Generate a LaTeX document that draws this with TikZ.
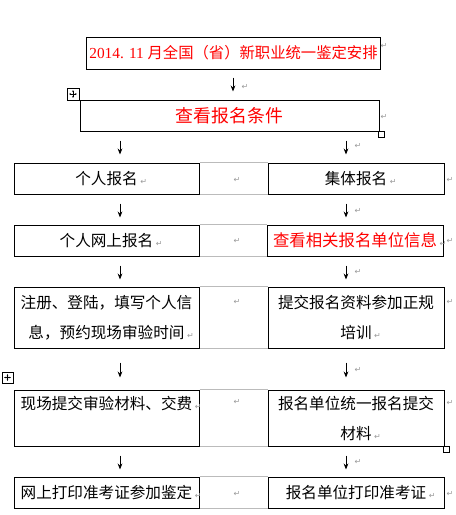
\documentclass[tikz,border=0pt]{standalone}
\usepackage{fontspec}
\newfontfamily\cjk{Noto Sans CJK SC}
\newfontfamily\symb{DejaVu Sans}
\newfontfamily\latinfont{Liberation Serif}
\usetikzlibrary{arrows.meta}

\definecolor{markColour}{HTML}{999999}
\newcommand\parmk{\rlap{\,{\symb\color{markColour}\fontsize{6}{6}\selectfont ↵}}}

\begin{document}
\begin{tikzpicture}[x=0.75pt, y=-0.75pt]
    \definecolor{borderColour}{HTML}{000000}
    \definecolor{gridColour}{HTML}{BBBBBB}
    \definecolor{noteColour}{HTML}{FF0000}

    \tikzset{
        box/.style={draw=borderColour, line width=0.75pt, inner sep=0pt, align=center,
            font=\cjk\fontsize{11.7}{22.5}\selectfont},
        leftbox/.style={box, minimum width=138.75pt},
        rightbox/.style={box, minimum width=132pt},
        flow/.style={line width=0.6pt, -{Stealth[length=4.5pt, width=3.5pt]}},
        tableline/.style={draw=gridColour, line width=0.75pt},
        retmark/.style={text=markColour, font=\symb\fontsize{6}{6}\selectfont, inner sep=0pt},
        handle/.style={draw=borderColour, line width=0.5pt, fill=white},
        cross/.style={line width=0.4pt, {Stealth[length=1.5pt]}-{Stealth[length=1.5pt]}}
    }

    \useasboundingbox (0,0) rectangle (456,515);

    % Columns of the arrows
    \coordinate (colM) at (233,0);
    \coordinate (colL) at (120,0);
    \coordinate (colR) at (346,0);

    % Top boxes
    \node[box, minimum width=220.5pt, minimum height=24pt, text=noteColour,
        font=\cjk\fontsize{11.5}{14}\selectfont] (plan) at (233.5,53)
        {{\latinfont 2014. 11 }月全国（省）新职业统一鉴定安排};
    \node[box, minimum width=224.25pt, minimum height=23.25pt, text=noteColour,
        font=\cjk\fontsize{13.4}{16}\selectfont] (cond) at (229.5,115.5) {查看报名条件};

    % Personal (left) and group (right) registration
    \node[leftbox, minimum height=23.25pt] (pSign) at (106.5,178.5) {个人报名\parmk};
    \node[rightbox, minimum height=23.25pt] (gSign) at (356,178.5) {集体报名\parmk};

    \node[leftbox, minimum height=23.25pt] (pOnline) at (106.5,240.5) {个人网上报名\parmk};
    \node[rightbox, minimum height=23.25pt, text=noteColour,
        font=\cjk\fontsize{12.3}{16}\selectfont] (gInfo) at (355,240.5) {查看相关报名单位信息\parmk};

    \node[leftbox, minimum height=45.75pt] (pReg) at (106.5,317.5)
        {注册、登陆，填写个人信\\息，预约现场审验时间\parmk};
    \node[rightbox, minimum height=45.75pt] (gTrain) at (356,317.5)
        {提交报名资料参加正规\\培训\parmk};

    \node[leftbox, minimum height=42pt] (pPay) at (106.5,418)
        {现场提交审验材料、交费\parmk\\\mbox{}};
    \node[rightbox, minimum height=42pt] (gHand) at (356,418)
        {报名单位统一报名提交\\材料\parmk};

    \node[leftbox, minimum height=23.25pt] (pPrint) at (106.5,492.5) {网上打印准考证参加鉴定\parmk};
    \node[rightbox, minimum height=23.25pt] (gPrint) at (356,492.5) {报名单位打印准考证\parmk};

    % Table lines between the columns
    \foreach \a/\b in {pSign/gSign, pOnline/gInfo, pReg/gTrain, pPay/gHand, pPrint/gPrint} {
        \draw[tableline] (\a.north east) -- (\b.north west);
        \draw[tableline] (\a.south east) -- (\b.south west);
    }

    % Arrows
    \draw[flow, shorten <=6pt, shorten >=6pt] (plan.south -| colM) -- (cond.north -| colM);
    \draw[flow, shorten <=6.75pt, shorten >=6pt] (cond.south -| colL) -- (pSign.north -| colL);
    \draw[flow, shorten <=6.75pt, shorten >=6pt] (cond.south -| colR) -- (gSign.north -| colR);
    \foreach \a/\b/\c in {pSign/pOnline/colL, pOnline/pReg/colL, pPay/pPrint/colL,
                          gSign/gInfo/colR, gInfo/gTrain/colR, gHand/gPrint/colR}
        \draw[flow, shorten <=6.75pt, shorten >=5.25pt] (\a.south -| \c) -- (\b.north -| \c);
    \foreach \a/\b/\c in {pReg/pPay/colL, gTrain/gHand/colR}
        \draw[flow, shorten <=10.5pt, shorten >=9pt] (\a.south -| \c) -- (\b.north -| \c);

    % Table handles
    \draw[handle] (67,88) rectangle (79,100);
    \draw[cross] (69,94) -- (77,94);
    \draw[cross] (73,90) -- (73,98);
    \draw[handle] (2,372) rectangle (13,383);
    \draw[cross] (4,377.5) -- (11,377.5);
    \draw[cross] (7.5,374) -- (7.5,381);
    \draw[handle] (378,131) rectangle (384,137);
    \draw[handle] (443,446) rectangle (449,452);

    % Paragraph marks
    \foreach \x/\y [count=\i] in {384/46, 245/87, 384/117, 358/146, 358/211, 358/272, 358/370, 358/462,
                                   237/180, 237/241, 237/302, 237/402, 237/494,
                                   450/180, 450/241, 450/302, 450/403, 450/494}
        \node[retmark] (mark\i) at (\x,\y) {↵};

\end{tikzpicture}
\end{document}
